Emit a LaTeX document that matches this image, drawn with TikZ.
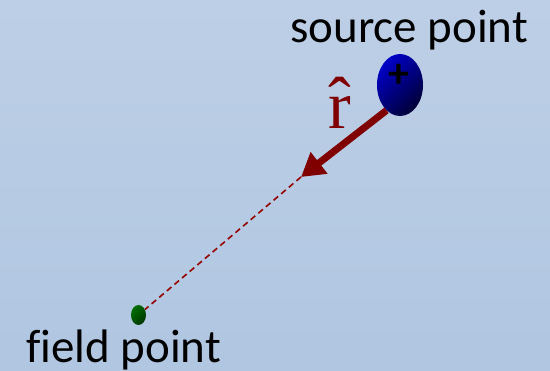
\documentclass[tikz,border=0pt]{standalone}
\usepackage{fontspec}
\usetikzlibrary{shapes.geometric,arrows.meta}
\newfontfamily\carl[Ligatures=CommonOff]{Carlito}
\newfontfamily\tms{Liberation Serif}
\definecolor{bgtop}{RGB}{189,207,230}
\definecolor{bgbot}{RGB}{176,198,225}
\definecolor{maroonA}{RGB}{128,0,0}
\definecolor{dashred}{RGB}{150,0,0}
\definecolor{blueA}{RGB}{0,0,200}
\definecolor{blueB}{RGB}{0,0,175}
\definecolor{blueC}{RGB}{0,0,55}
\definecolor{greenA}{RGB}{0,110,0}
\definecolor{greenB}{RGB}{0,55,0}
\tikzset{
  lbl/.style={inner sep=0pt, font=\carl\fontsize{47}{47}\selectfont, text=black},
  charge/.style={ellipse, inner sep=0pt, shading=axis, top color=blueA, middle color=blueB, bottom color=blueC, shading angle=45},
  fieldpt/.style={ellipse, inner sep=0pt, shading=axis, top color=greenA, bottom color=greenB, shading angle=45},
  unitvec/.style={draw=maroonA, line width=7pt, -{Triangle[length=23pt,width=26pt]}},
  sightline/.style={draw=dashred, line width=1.6pt, dash pattern=on 6pt off 4pt}
}
\begin{document}
\begin{tikzpicture}[x=1pt,y=-1pt]
\shade[top color=bgtop, bottom color=bgbot] (0,0) rectangle (550,371);
\useasboundingbox (0,0) rectangle (550,371);
\node[lbl, anchor=base west] (srclbl) at (290,43) {source point};
\node[lbl, anchor=base west] (fldlbl) at (26,363) {field point};
\node[charge, minimum width=46pt, minimum height=62pt] (src) at (400,85) {};
\node[inner sep=0pt, font=\carl\bfseries\fontsize{42}{42}\selectfont] (plus) at (398.5,75.5) {+};
\node[fieldpt, minimum width=15pt, minimum height=20pt] (fld) at (138.5,315) {};
\coordinate (tip) at (301,177);
\draw[sightline] (tip) -- (fld);
\draw[unitvec] (src.242) -- (tip);
\node[text=maroonA, anchor=base, inner sep=0pt] (rhat) at (340,129) {\tms\fontsize{68}{68}\selectfont\rlap{\raisebox{4pt}{ˆ}}r};
\end{tikzpicture}
\end{document}
